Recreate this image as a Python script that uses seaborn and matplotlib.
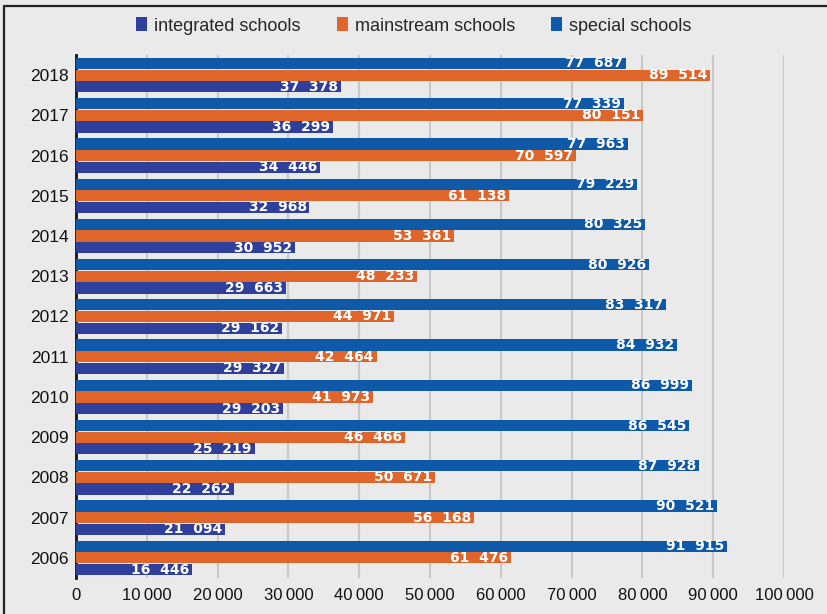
import matplotlib
matplotlib.use("Agg")
import matplotlib.pyplot as plt
import seaborn as sns
import pandas as pd
from matplotlib.patches import Patch
from matplotlib.lines import Line2D
from matplotlib.ticker import FuncFormatter

years = ["2018", "2017", "2016", "2015", "2014", "2013", "2012",
         "2011", "2010", "2009", "2008", "2007", "2006"]
special = [77687, 77339, 77963, 79229, 80325, 80926, 83317,
           84932, 86999, 86545, 87928, 90521, 91915]
mainstream = [89514, 80151, 70597, 61138, 53361, 48233, 44971,
              42464, 41973, 46466, 50671, 56168, 61476]
integrated = [37378, 36299, 34446, 32968, 30952, 29663, 29162,
              29327, 29203, 25219, 22262, 21094, 16446]
series_names = ["integrated schools", "mainstream schools", "special schools"]
x_ticks = [0, 10000, 20000, 30000, 40000, 50000, 60000, 70000, 80000, 90000, 100000]

colors = {"integrated schools": "#2f3f9c",
          "mainstream schools": "#e0652a",
          "special schools": "#0f59a9"}

rows = []
for i, y in enumerate(years):
    rows.append({"year": y, "type": "special schools", "value": special[i]})
    rows.append({"year": y, "type": "mainstream schools", "value": mainstream[i]})
    rows.append({"year": y, "type": "integrated schools", "value": integrated[i]})
df = pd.DataFrame(rows)

sns.set_style("white")
plt.rcParams["font.family"] = ["Liberation Sans", "DejaVu Sans"]

bg = "#eaeaea"
fig = plt.figure(figsize=(8.28, 6.14), dpi=100, facecolor=bg)
ax = fig.add_axes([76 / 828, 1 - 578 / 614, (784 - 76) / 828, (578 - 55) / 614])
ax.set_facecolor(bg)

hue_order = ["special schools", "mainstream schools", "integrated schools"]
sns.barplot(data=df, y="year", x="value", hue="type", order=years,
            hue_order=hue_order, palette=colors, saturation=1, orient="h",
            width=0.87, gap=0.04, edgecolor="none", linewidth=0,
            legend=False, ax=ax, zorder=3)

for cont in ax.containers:
    labels = [f"{int(v):,}".replace(",", "  ") for v in cont.datavalues]
    texts = ax.bar_label(cont, labels=labels, label_type="edge", padding=-2,
                         color="white", fontsize=10, fontweight="heavy",
                         family="DejaVu Sans", zorder=5)
    for t in texts:
        t.set_ha("right")

ax.set_xlim(0, 100000)
ax.set_xticks(x_ticks)
ax.xaxis.set_major_formatter(FuncFormatter(lambda v, p: f"{int(v):,}".replace(",", "\u2009")))
ax.xaxis.grid(True, color="#c8c8c8", linewidth=1.5, zorder=0)
ax.yaxis.grid(False)
ax.set_axisbelow(True)
ax.tick_params(axis="x", length=0, pad=7, labelsize=12, colors="#111111")
ax.tick_params(axis="y", length=0, pad=5, labelsize=12.5, colors="#111111")
ax.set_xlabel("")
ax.set_ylabel("")
for s in ["top", "right", "bottom"]:
    ax.spines[s].set_visible(False)
ax.spines["left"].set_color("#111111")
ax.spines["left"].set_linewidth(2)
ax.spines["left"].set_zorder(1)

handles = [Patch(facecolor=colors[n], edgecolor="none") for n in series_names]
fig.legend(handles, series_names, loc="center", bbox_to_anchor=(414 / 828, 1 - 26 / 614),
           ncol=3, frameon=False, fontsize=13, handlelength=0.6, handleheight=0.8,
           handletextpad=0.4, columnspacing=2.0)

fig.add_artist(Line2D([4 / 828, 4 / 828], [0, 1 - 6 / 614], transform=fig.transFigure,
                      color="#222222", linewidth=1.6))
fig.add_artist(Line2D([4 / 828, 1], [1 - 6 / 614, 1 - 6 / 614], transform=fig.transFigure,
                      color="#222222", linewidth=1.6))

fig.savefig("out.png", dpi=100, facecolor=bg)
